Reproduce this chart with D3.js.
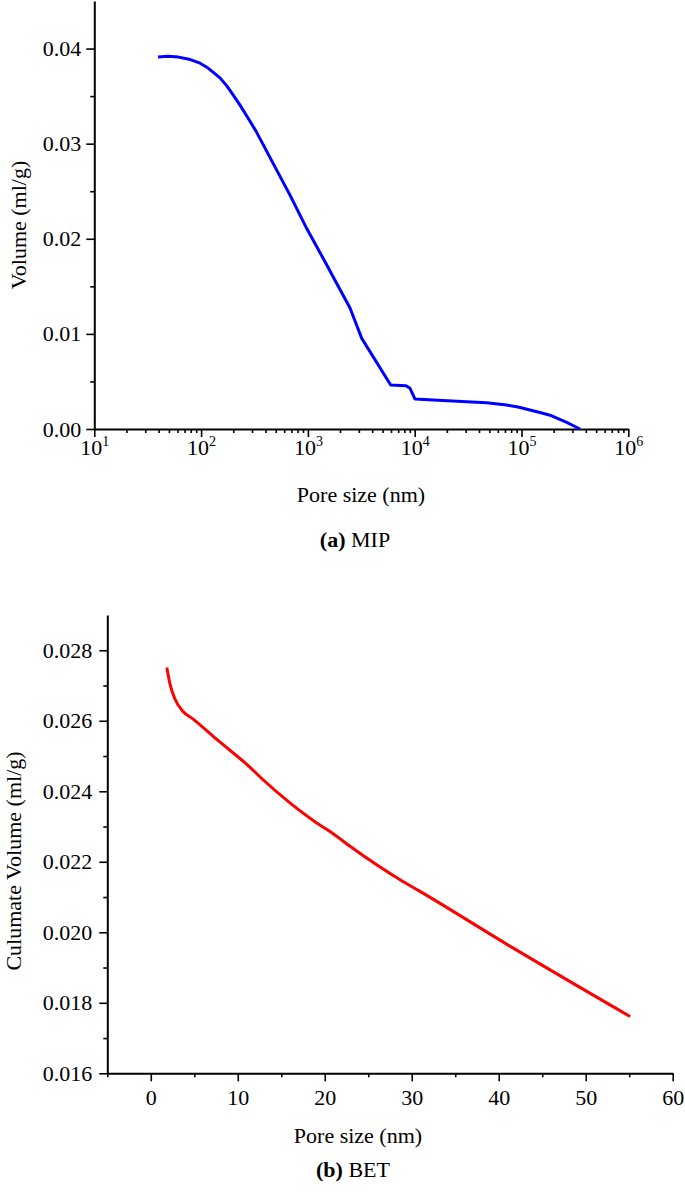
<!DOCTYPE html>
<html>
<head>
<meta charset="utf-8">
<script src="https://cdn.jsdelivr.net/npm/d3@7"></script>
<style>
  html, body { margin: 0; padding: 0; background: #fff; }
  svg { display: block; }
  svg text { font-family: 'Liberation Serif', 'Times New Roman', serif; fill: #000; }
</style>
</head>
<body>
<svg id="chart" width="685" height="1195"></svg>
<script>
// ---- (a) MIP data ----
const mipSize = [39.5, 49.0, 61.5, 77.0, 97.7, 113, 129.3, 151, 174.8, 200, 231.4, 275, 326.6, 471.2, 679.8, 980.8, 1385, 1873, 2479, 3192, 5960, 8290, 9040, 10070, 14940, 30690, 47200, 72600, 95000, 120000, 149000, 185000, 219800, 265000, 303500, 353000];
const mipVol  = [0.03910, 0.03920, 0.03910, 0.03888, 0.03846, 0.03804, 0.03752, 0.03689, 0.03605, 0.03511, 0.03405, 0.03270, 0.03132, 0.02795, 0.02459, 0.02102, 0.01797, 0.01524, 0.01272, 0.00953, 0.00462, 0.00456, 0.00428, 0.00315, 0.00305, 0.00287, 0.00277, 0.00252, 0.00228, 0.00200, 0.00173, 0.00145, 0.00110, 0.00070, 0.00037, 0.0];
const mipXTicks = [10, 100, 1000, 10000, 100000, 1000000];
const mipXExp = ["1", "2", "3", "4", "5", "6"];
const mipYTicks = [0.00, 0.01, 0.02, 0.03, 0.04];

// ---- (b) BET data ----
const betSize = [1.84, 2.22, 2.79, 3.68, 4.9, 7.59, 11.41, 12.94, 16.0, 19.08, 20.6, 22.9, 28.66, 30.95, 41.68, 55.1];
const betVol  = [0.02751, 0.02703, 0.02661, 0.02627, 0.02604, 0.02547, 0.02468, 0.02432, 0.02367, 0.0231, 0.02286, 0.02244, 0.02149, 0.02116, 0.01955, 0.01761];
const betXTicks = [0, 10, 20, 30, 40, 50, 60];
const betYTicks = [0.016, 0.018, 0.020, 0.022, 0.024, 0.026, 0.028];

const svg = d3.select("#chart");
const FS = 22;
const FF = "'Liberation Serif', 'Times New Roman', serif";

function styleAxis(g) {
  g.attr("font-family", null).attr("font-size", null);
  g.select(".domain").attr("stroke", "#000").attr("stroke-width", 2);
  g.selectAll(".tick line").attr("stroke", "#000").attr("stroke-width", 1.6);
  g.selectAll(".tick text").style("font-size", FS + "px").style("font-family", FF).attr("fill", "#000");
}

// ================= Chart (a) =================
(function () {
  const x = d3.scaleLog().domain([10, 1e6]).range([94.3, 628.3]);
  const y = d3.scaleLinear().domain([0, 0.045]).range([429, 1]);
  const g = svg.append("g");

  const minorX = [];
  for (let e = 1; e < 6; e++) for (let m = 2; m <= 9; m++) minorX.push(m * Math.pow(10, e));
  g.append("g").attr("transform", "translate(0,429)")
    .call(d3.axisBottom(x).tickValues(minorX).tickSize(4).tickSizeOuter(0).tickFormat(""))
    .call(styleAxis).call(a => a.select(".domain").remove());
  g.append("g").attr("transform", "translate(94.3,0)")
    .call(d3.axisLeft(y).tickValues([0.005, 0.015, 0.025, 0.035]).tickSize(4).tickSizeOuter(0).tickFormat(""))
    .call(styleAxis).call(a => a.select(".domain").remove());

  const xa = g.append("g").attr("transform", "translate(0,429)")
    .call(d3.axisBottom(x).tickValues(mipXTicks).tickSize(8).tickSizeOuter(0).tickFormat(""))
    .call(styleAxis);
  xa.selectAll(".tick").each(function (d, i) {
    const t = d3.select(this).append("text").attr("y", 26).attr("text-anchor", "middle")
      .style("font-size", FS + "px").style("font-family", FF).attr("fill", "#000");
    t.append("tspan").text("10");
    t.append("tspan").attr("dy", -9).style("font-size", "14px").text(mipXExp[i]);
  });

  g.append("g").attr("transform", "translate(94.3,0)")
    .call(d3.axisLeft(y).tickValues(mipYTicks).tickSize(8).tickSizeOuter(0).tickPadding(5).tickFormat(d3.format(".2f")))
    .call(styleAxis);

  const line = d3.line().x((d, i) => x(mipSize[i])).y((d, i) => y(mipVol[i])).curve(d3.curveLinear);
  g.append("path").datum(mipVol).attr("d", line).attr("fill", "none")
    .attr("stroke", "#0000FF").attr("stroke-width", 3).attr("stroke-linejoin", "round");

  g.append("text").attr("transform", "translate(26,225) rotate(-90)").attr("text-anchor", "middle")
    .style("font-size", FS + "px").text("Volume (ml/g)");
  g.append("text").attr("x", 361).attr("y", 502).attr("text-anchor", "middle")
    .style("font-size", FS + "px").text("Pore size (nm)");
  const cap = g.append("text").attr("x", 355).attr("y", 547).attr("text-anchor", "middle").style("font-size", FS + "px");
  cap.append("tspan").style("font-weight", "bold").text("(a)");
  cap.append("tspan").text(" MIP");
})();

// ================= Chart (b) =================
(function () {
  const x = d3.scaleLinear().domain([-5, 60]).range([107.3, 672.7]);
  const y = d3.scaleLinear().domain([0.016, 0.029]).range([1073.3, 615]);
  const g = svg.append("g");

  g.append("g").attr("transform", "translate(0,1073.3)")
    .call(d3.axisBottom(x).tickValues([-5, 5, 15, 25, 35, 45, 55]).tickSize(4).tickSizeOuter(0).tickFormat(""))
    .call(styleAxis).call(a => a.select(".domain").remove());
  g.append("g").attr("transform", "translate(107.3,0)")
    .call(d3.axisLeft(y).tickValues([0.017, 0.019, 0.021, 0.023, 0.025, 0.027]).tickSize(4).tickSizeOuter(0).tickFormat(""))
    .call(styleAxis).call(a => a.select(".domain").remove());

  g.append("g").attr("transform", "translate(0,1073.3)")
    .call(d3.axisBottom(x).tickValues(betXTicks).tickSize(8).tickSizeOuter(0).tickPadding(8).tickFormat(d3.format("d")))
    .call(styleAxis);
  g.append("g").attr("transform", "translate(107.3,0)")
    .call(d3.axisLeft(y).tickValues(betYTicks).tickSize(8).tickSizeOuter(0).tickPadding(7).tickFormat(d3.format(".3f")))
    .call(styleAxis);

  const line = d3.line().x((d, i) => x(betSize[i])).y((d, i) => y(betVol[i])).curve(d3.curveMonotoneX);
  g.append("path").datum(betVol).attr("d", line).attr("fill", "none")
    .attr("stroke", "#FF0000").attr("stroke-width", 3).attr("stroke-linejoin", "round");

  g.append("text").attr("transform", "translate(21,861) rotate(-90)").attr("text-anchor", "middle")
    .style("font-size", FS + "px").text("Culumate Volume (ml/g)");
  g.append("text").attr("x", 358).attr("y", 1143).attr("text-anchor", "middle")
    .style("font-size", FS + "px").text("Pore size (nm)");
  const cap = g.append("text").attr("x", 353).attr("y", 1177).attr("text-anchor", "middle").style("font-size", FS + "px");
  cap.append("tspan").style("font-weight", "bold").text("(b)");
  cap.append("tspan").text(" BET");
})();
</script>
</body>
</html>
